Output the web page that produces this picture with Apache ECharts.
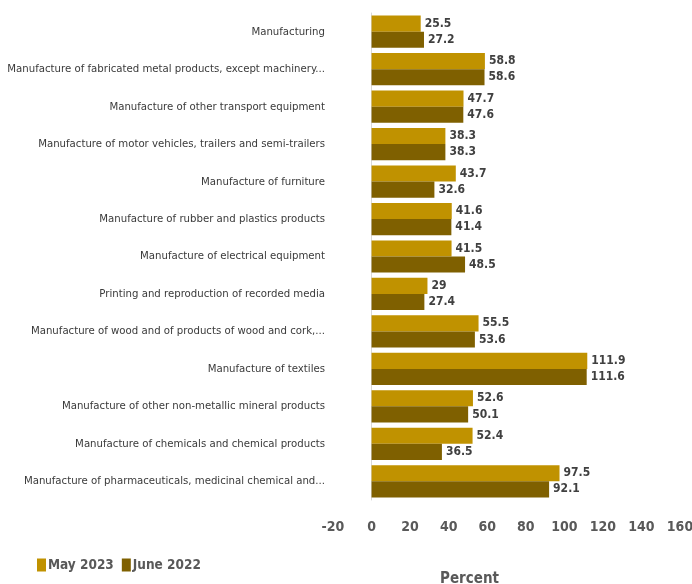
<!DOCTYPE html>
<html><head><meta charset="utf-8">
<script src="https://cdn.jsdelivr.net/npm/echarts@6/dist/echarts.min.js"></script>
<style>html,body{margin:0;padding:0;background:#fff}#c{width:692px;height:584px}</style>
</head><body><div id="c"></div>
<script>
const categories = [
 "Manufacturing",
 "Manufacture of fabricated metal products, except machinery...",
 "Manufacture of other transport equipment",
 "Manufacture of motor vehicles, trailers and semi-trailers",
 "Manufacture of furniture",
 "Manufacture of rubber and plastics products",
 "Manufacture of electrical equipment",
 "Printing and reproduction of recorded media",
 "Manufacture of wood and of products of wood and cork,...",
 "Manufacture of textiles",
 "Manufacture of other non-metallic mineral products",
 "Manufacture of chemicals and chemical products",
 "Manufacture of pharmaceuticals, medicinal chemical and..."
];
const may2023 = [25.5,58.8,47.7,38.3,43.7,41.6,41.5,29,55.5,111.9,52.6,52.4,97.5];
const june2022 = [27.2,58.6,47.6,38.3,32.6,41.4,48.5,27.4,53.6,111.6,50.1,36.5,92.1];
const FONT = "'DejaVu Sans Condensed', sans-serif";
const chart = echarts.init(document.getElementById('c'));
const lbl = {show:true,position:'right',distance:4,color:'#404040',fontFamily:FONT,fontWeight:'bold',fontSize:12};
chart.setOption({
  animation:false,
  grid:{left:333,right:12,top:13,bottom:84,containLabel:false,outerBoundsMode:'none'},
  legend:{left:32,bottom:7,itemWidth:9,itemHeight:13,itemGap:8,icon:'rect',
    textStyle:{color:'#595959',fontFamily:FONT,fontWeight:'bold',fontSize:13.5,padding:[0,0,0,-3]},
    data:['May 2023','June 2022']},
  xAxis:{type:'value',min:-20,max:160,interval:20,
    name:'Percent',nameLocation:'middle',nameGap:72,
    nameTextStyle:{color:'#595959',fontFamily:FONT,fontWeight:'bold',fontSize:15,padding:[0,74,0,0]},
    axisLabel:{color:'#595959',fontFamily:FONT,fontWeight:'bold',fontSize:14,margin:20},
    axisLine:{show:false},axisTick:{show:false},splitLine:{show:false}},
  yAxis:{type:'category',data:categories,inverse:true,
    axisLine:{show:true,onZero:true,lineStyle:{color:'#d9d9d9',width:1}},axisTick:{show:false},
    axisLabel:{color:'#3a3a3a',fontFamily:FONT,fontSize:11.3,margin:8}},
  series:[
    {name:'May 2023',type:'bar',data:may2023,barGap:'0%',barCategoryGap:'14%',
     itemStyle:{color:'#C09200'},label:lbl},
    {name:'June 2022',type:'bar',data:june2022,barGap:'0%',barCategoryGap:'14%',
     itemStyle:{color:'#7F6000'},label:lbl}
  ]
});
</script></body></html>
